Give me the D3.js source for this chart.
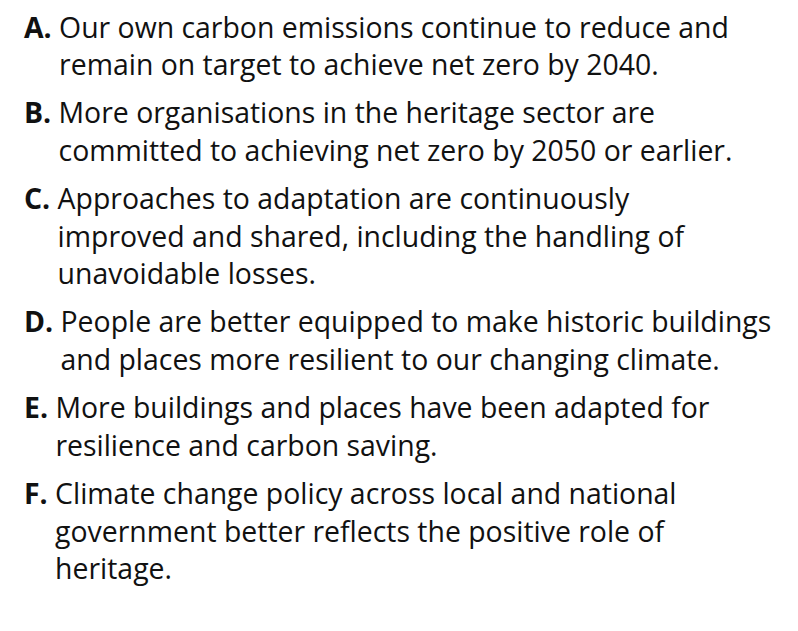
<!DOCTYPE html>
<html>
<head>
<meta charset="utf-8">
<script src="https://cdn.jsdelivr.net/npm/d3@7"></script>
<style>
  html, body { margin: 0; padding: 0; background: #fff; }
  svg { display: block; }
</style>
</head>
<body>
<svg id="chart" width="798" height="631"></svg>
<script>
// ---- data ----
const labels = ["A.", "B.", "C.", "D.", "E.", "F."];
const itemLines = [
  ["Our own carbon emissions continue to reduce and",
   "remain on target to achieve net zero by 2040."],
  ["More organisations in the heritage sector are",
   "committed to achieving net zero by 2050 or earlier."],
  ["Approaches to adaptation are continuously",
   "improved and shared, including the handling of",
   "unavoidable losses."],
  ["People are better equipped to make historic buildings",
   "and places more resilient to our changing climate."],
  ["More buildings and places have been adapted for",
   "resilience and carbon saving."],
  ["Climate change policy across local and national",
   "government better reflects the positive role of",
   "heritage."]
];

// ---- layout ----
const svg = d3.select("#chart");
const fontFamily = "'Open Sans', 'Noto Sans', sans-serif";
const labelX = 24;
const firstBaseline = 37.5;
const lineHeight = 37.5;
const itemGap = 10.8;
const textColor = "#111";

// calibrate font size so the widest line matches reference width
const probe = svg.append("text")
  .attr("font-family", fontFamily).attr("font-size", 100)
  .text(itemLines[3][0]);
const w100 = probe.node().getComputedTextLength();
probe.remove();
const fontSize = Math.min(32, 100 * 711 / w100);

const yScale = d3.scaleLinear().domain([0, 1]).range([firstBaseline, firstBaseline + lineHeight]);

let lineIdx = 0;
labels.forEach((lab, i) => {
  const g = svg.append("g");
  const y0 = yScale(lineIdx) + i * itemGap;
  const lt = g.append("text")
    .attr("x", labelX).attr("y", y0)
    .attr("font-family", fontFamily)
    .attr("font-size", fontSize)
    .attr("font-weight", 700)
    .attr("fill", textColor)
    .text(lab);
  const lw = lt.node().getComputedTextLength();
  const textX = labelX + lw + fontSize * 0.26;
  g.selectAll("text.line")
    .data(itemLines[i])
    .join("text")
    .attr("class", "line")
    .attr("x", textX)
    .attr("y", (d, j) => yScale(lineIdx + j) + i * itemGap)
    .attr("font-family", fontFamily)
    .attr("font-size", fontSize)
    .attr("fill", textColor)
    .text(d => d);
  lineIdx += itemLines[i].length;
});
</script>
</body>
</html>
